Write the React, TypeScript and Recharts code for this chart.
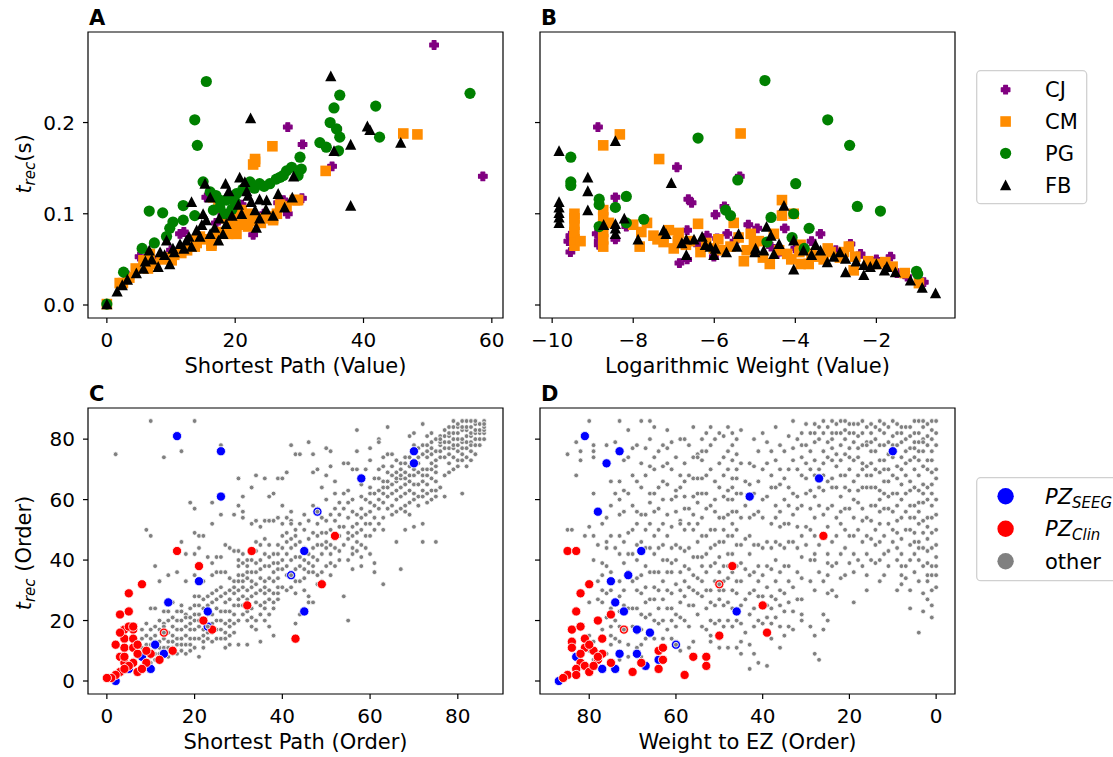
import React from "react";
import { ScatterChart, Scatter, XAxis, YAxis, ReferenceArea, Legend, Customized } from "recharts";

const FONT = '"DejaVu Sans", sans-serif';
type Pt = [number, number];
type Col = [number, number[]];

// ---- panel A : t_rec (s) vs shortest path (value)
const cjA: Pt[] = [[51.0,0.285],[58.6,0.141],[28.2,0.195],[30.5,0.176],[35.9,0.193],[35.1,0.152],[30.4,0.117],[26.7,0.112],[28.2,0.1],[22.8,0.077],[11.4,0.078],[5.1,0.053],[2.8,0.035],[15.5,0.118],[3.5,0.03],[8,0.05],[13,0.07],[17,0.09],[20,0.092],[24.5,0.1],[6.5,0.045],[10,0.06],[12,0.08],[18,0.1],[21,0.11],[27.5,0.115]];
const cmA: Pt[] = [[46.2,0.188],[48.4,0.187],[34.1,0.147],[25.8,0.174],[23.1,0.16],[22.8,0.154],[29.8,0.115],[25.9,0.095],[23.1,0.157],[20.5,0.093],[20.1,0.082],[16.3,0.067],[29.3,0.115],[25.7,0.097],[5.9,0.049],[6.4,0.04],[2.5,0.024],[0,0.001],[11.6,0.057],[13.7,0.064],[18.9,0.078],[22.0,0.086],[21.0,0.104],[17.4,0.107],[10.1,0.049],[16.6,0.118],[18.6,0.095],[20.2,0.078],[21.2,0.091],[22.8,0.096],[25.9,0.093],[6.7,0.056],[5.7,0.049],[11.9,0.062],[13.5,0.071],[16.3,0.065],[2.0,0.024],[29.6,0.115],[8.5,0.05],[14.5,0.075],[19.5,0.087],[24,0.09],[27,0.11],[3.5,0.03],[4.5,0.04],[7.5,0.045],[9,0.052],[10.5,0.055],[12.5,0.06],[14,0.068],[15,0.072],[17,0.075],[18,0.08],[19,0.083],[21.5,0.088],[23.5,0.092],[24.5,0.095],[26.5,0.1],[28,0.108],[19.5,0.1],[20.5,0.104],[22,0.1]];
const pgA: Pt[] = [[15.5,0.245],[13.7,0.203],[14.1,0.175],[56.6,0.232],[36.3,0.23],[35.4,0.216],[41.9,0.218],[34.8,0.2],[35.8,0.193],[36.3,0.184],[42.5,0.184],[33.2,0.178],[34.2,0.173],[36.1,0.169],[30.1,0.162],[28.8,0.151],[30.3,0.149],[29.8,0.142],[27.5,0.142],[26.4,0.138],[25.4,0.133],[23.8,0.133],[22.3,0.135],[21.2,0.127],[20.2,0.122],[18.6,0.115],[17.6,0.107],[16.6,0.104],[16.1,0.124],[15.0,0.135],[11.9,0.109],[13.7,0.098],[11.9,0.093],[10.3,0.091],[9.8,0.084],[6.6,0.103],[8.7,0.101],[9.3,0.075],[7.4,0.068],[5.5,0.062],[2.6,0.036],[0,0.001],[17.6,0.115],[18.4,0.1],[19,0.118],[20,0.113],[22,0.13],[23,0.128],[24.5,0.13],[27,0.14],[28,0.147],[17,0.12],[19.5,0.105]];
const fbA: Pt[] = [[34.9,0.251],[22.4,0.205],[40.6,0.196],[41.0,0.192],[45.8,0.178],[38.0,0.176],[35.4,0.169],[38.0,0.109],[29.1,0.141],[28.9,0.118],[26.7,0.122],[27.7,0.107],[25.9,0.098],[20.7,0.14],[21.5,0.135],[21.8,0.125],[18.5,0.133],[13.2,0.113],[15.3,0.133],[16.1,0.118],[20.5,0.11],[22.5,0.113],[23.8,0.116],[24.9,0.115],[24.8,0.105],[23.1,0.104],[23.8,0.095],[23.3,0.085],[18.6,0.089],[16.8,0.085],[15.0,0.1],[15.5,0.093],[16.1,0.078],[18.1,0.078],[17.4,0.071],[14.0,0.082],[14.5,0.075],[13.2,0.064],[11.4,0.067],[10.3,0.062],[9.3,0.071],[9.0,0.055],[9.8,0.045],[8.0,0.042],[6.6,0.06],[5.7,0.04],[4.6,0.035],[3.2,0.028],[2.4,0.022],[1.6,0.015],[0,0.001],[8.3,0.058],[12.4,0.071],[6,0.048],[7,0.05],[10.5,0.058],[12,0.062],[12.8,0.075],[14.8,0.088],[17.5,0.095],[19.5,0.098],[21,0.1],[22,0.12],[19,0.125]];

// ---- panel B : t_rec (s) vs logarithmic weight (value)
const cjB: Pt[] = [[-8.87,0.195],[-6.92,0.151],[-5.37,0.141],[-8.44,0.118],[-6.64,0.116],[-6.56,0.112],[-5.97,0.099],[-5.75,0.108],[-5.16,0.088],[-4.94,0.084],[-4.26,0.084],[-3.38,0.078],[-9.55,0.058],[-9.55,0.076],[-8.85,0.066],[-8.17,0.086],[-8.44,0.072],[-6.86,0.046],[-6.67,0.05],[-6.01,0.053],[-6.18,0.076],[-5.93,0.073],[-5.68,0.078],[-4.45,0.056],[-2.64,0.067],[-2.39,0.056],[-1.65,0.053],[-1.24,0.031],[-0.83,0.025],[-1.49,0.035],[-3.05,0.058],[-6.67,0.082],[-8.85,0.07],[-9.6,0.07],[-8.9,0.078],[-7.3,0.07],[-6.4,0.066],[-5.5,0.07],[-4.6,0.064],[-4.0,0.062],[-3.6,0.07],[-3.0,0.06],[-2.0,0.05]];
const cmB: Pt[] = [[-8.33,0.187],[-8.74,0.175],[-7.36,0.16],[-5.35,0.188],[-4.33,0.115],[-4.33,0.098],[-4.04,0.1],[-9.45,0.065],[-9.45,0.072],[-9.45,0.08],[-9.45,0.088],[-9.45,0.095],[-9.45,0.1],[-8.74,0.064],[-8.74,0.072],[-8.74,0.08],[-8.74,0.088],[-8.74,0.096],[-8.74,0.104],[-7.66,0.09],[-7.5,0.076],[-7.12,0.082],[-6.88,0.079],[-7.25,0.069],[-7.0,0.062],[-7.84,0.064],[-6.4,0.089],[-6.34,0.058],[-6.01,0.062],[-5.52,0.09],[-5.6,0.064],[-5.27,0.048],[-5.1,0.078],[-5.02,0.067],[-4.63,0.045],[-4.53,0.078],[-4.2,0.056],[-3.87,0.066],[-3.87,0.045],[-3.67,0.045],[-3.13,0.058],[-2.68,0.064],[-2.52,0.053],[-2.56,0.038],[-1.98,0.045],[-1.78,0.047],[-0.95,0.024],[-3.46,0.053],[-6.6,0.07],[-5.8,0.06],[-4.9,0.07],[-4.1,0.05],[-3.3,0.05],[-9.3,0.07],[-8.6,0.09],[-8.0,0.088],[-7.8,0.08],[-7.4,0.072],[-6.9,0.07],[-6.7,0.066],[-6.2,0.068],[-5.9,0.072],[-5.4,0.074],[-5.2,0.06],[-4.8,0.052],[-4.4,0.06],[-3.9,0.058],[-3.6,0.056],[-3.2,0.062],[-2.9,0.052],[-2.2,0.048],[-1.6,0.042],[-1.3,0.035],[-2.8,0.058]];
const pgB: Pt[] = [[-4.75,0.246],[-3.2,0.203],[-2.66,0.175],[-6.4,0.183],[-9.54,0.162],[-9.54,0.135],[-9.54,0.131],[-5.42,0.137],[-3.99,0.133],[-8.17,0.119],[-8.84,0.116],[-8.84,0.11],[-8.44,0.107],[-2.47,0.108],[-1.9,0.103],[-5.72,0.104],[-5.6,0.098],[-4.6,0.096],[-4.04,0.1],[-7.74,0.094],[-8.17,0.09],[-8.84,0.086],[-3.66,0.084],[-4.08,0.074],[-3.78,0.062],[-4.7,0.069],[-1.01,0.037],[-0.98,0.034]];
const fbB: Pt[] = [[-9.83,0.169],[-8.44,0.18],[-9.12,0.14],[-9.12,0.125],[-9.12,0.104],[-7.06,0.134],[-9.83,0.113],[-9.83,0.107],[-9.83,0.101],[-9.83,0.096],[-9.83,0.09],[-8.44,0.089],[-8.44,0.084],[-8.44,0.078],[-8.73,0.088],[-8.22,0.095],[-7.88,0.072],[-7.25,0.082],[-7.19,0.078],[-6.69,0.072],[-6.69,0.055],[-6.5,0.072],[-6.3,0.075],[-6.22,0.066],[-6.1,0.064],[-6.01,0.055],[-5.97,0.062],[-5.4,0.078],[-5.44,0.064],[-4.98,0.062],[-4.78,0.06],[-4.71,0.086],[-4.6,0.076],[-4.53,0.056],[-4.4,0.067],[-4.28,0.109],[-4.04,0.071],[-4.04,0.039],[-3.5,0.066],[-3.38,0.06],[-3.21,0.047],[-3.05,0.053],[-2.76,0.051],[-2.76,0.036],[-2.31,0.044],[-2.31,0.033],[-2.15,0.042],[-1.74,0.042],[-1.53,0.036],[-1.16,0.027],[-0.87,0.019],[-0.54,0.013],[-3.8,0.06],[-3.6,0.055],[-2.9,0.058],[-2.5,0.048],[-2.0,0.045],[-1.8,0.038],[-6.8,0.068],[-5.7,0.058],[-5.0,0.058]];

// ---- panel C : t_rec (order) vs shortest path (order), grey points as [x, ys]
const otherC: Col[] = [[2,[75]],[3,[2]],[4,[3]],[5,[4,11]],[6,[12,7]],[7,[13,9,3]],[8,[14,11,5,8,17]],[9,[50,19,9,7,12,15]],[10,[86,48,24,17,6,8,10,12,14]],[11,[38,24,15,11,7,9,13,18]],[12,[33,17,9,7,11,13,20]],[13,[74,23,19,14,9,11,16,18]],[14,[35,20,11,8,13,16,23]],[15,[26,18,13,9,11,15,21]],[16,[43,36,23,17,9,12,14,20]],[17,[76,46,25,20,10,12,14,17,23]],[18,[42,33,22,21,9,12,15,18]],[19,[59,24,19,14,10,12,17,21]],[20,[86,57,49,42,35,25,20,11,14,17,22,28]],[21,[48,44,25,18,8,14,20,22,28]],[22,[48,33,27,17,11,13,15,20,24]],[23,[41,28,14,16,19,22,25]],[24,[59,52,39,35,29,13,16,19,22,26]],[25,[41,36,27,14,17,20,24,30]],[26,[78,55,41,36,28,17,14,20,23,31]],[27,[45,36,29,19,11,14,16,23,26]],[28,[44,34,30,20,12,15,18,23,27]],[29,[55,43,33,29,22,16,19,25,31]],[30,[67,58,40,35,30,20,12,25,27,33,38,43]],[31,[61,56,54,39,35,28,22,25,31,33,42]],[32,[38,34,25,20,12,23,27,30,36,40]],[33,[64,52,33,28,18,21,24,31,36,40]],[34,[68,53,46,36,29,17,20,26,32,39,43]],[35,[51,45,34,30,13,22,25,37,40]],[36,[67,53,47,33,29,20,24,26,31,38,42]],[37,[61,53,45,34,27,18,22,30,38,41]],[38,[62,53,42,33,26,15,24,29,36,39]],[39,[67,54,42,39,34,27,29,31,37,45]],[40,[67,40,37,31,44,48,52,58]],[41,[69,54,42,30,35,38,46,49]],[42,[78,56,53,52,31,35,40,44,47]],[43,[75,33,29,19,37,41,45,48,50]],[44,[75,33,22,38,41,46,52]],[45,[34,30,37,40,44,50,55]],[46,[79,36,28,26,39,42,47,53]],[47,[75,69,38,36,26,41,44,49,58]],[48,[70,40,32,35,45,48,52,57]],[49,[64,42,36,33,45,49,54]],[50,[77,68,46,44,38,49,53,60]],[51,[76,71,45,39,35,42,50,55]],[52,[66,47,44,38,53,57,62]],[53,[51,48,40,43,55,59]],[54,[72,51,28,45,57,62]],[55,[72,54,49,47,20,40,59,63]],[56,[70,56,51,44,37,42,48,60]],[57,[83,76,70,52,46,43,49,55]],[58,[65,61,54,41,38,45,50,57]],[59,[70,55,44,48,52,60]],[60,[77,73,62,56,42,48,52,59,64]],[61,[67,58,39,36,50,54,62]],[62,[80,79,67,57,52,60,63,70]],[63,[74,71,64,59,32,50,54,62,66]],[64,[84,75,69,61,57,64,66]],[65,[75,71,65,58,55,62,68]],[66,[73,69,60,46,56,63,66,67]],[67,[70,64,61,37,57,67,68,72]],[68,[72,67,62,50,56,58,65,69,74]],[69,[81,71,63,55,59,66,68,74]],[70,[82,73,70,68,51,60,62,65,76,78]],[71,[74,65,58,61,69,72,77]],[72,[85,75,70,63,52,46,61,66,68,78]],[73,[81,74,65,59,62,68,70,76,78]],[74,[82,75,72,67,60,63,70,77,79]],[75,[80,76,71,69,46,61,63,66,73]],[76,[81,78,74,64,76,79,80]],[77,[83,77,68,61,79,81,74]],[78,[84,79,75,69,77,81,82,72]],[79,[84,80,74,77,78,82,86,70]],[80,[78,73,76,80,82,84,85,71]],[81,[86,79,75,62,77,80,83,84,73]],[82,[86,77,71,74,79,81,83,84]],[83,[79,73,76,78,81,82,84,86]],[84,[85,82,75,78,80,83,86]],[85,[85,78,80,82,83]],[86,[86,82,80,83,84,85]]];
const seegC: Pt[] = [[16,81],[26,76],[26,61],[58,67],[70,76],[70,72],[21,33],[14,26],[45,43],[45,23],[23,23],[8,8],[10,4],[2,0],[11,12],[13,9],[5,4],[48,56],[42,35],[23,18]];
const clinC: Pt[] = [[16,43],[33,43],[21,38],[8,32],[5,29],[3,22],[5,23],[32,25],[22,20],[24,17],[49,32],[43,14],[52,48],[15,10],[12,7],[10,9],[9,10],[4,17],[6,17],[4,14],[6,14],[4,11],[6,11],[3,8],[4,6],[6,6],[7,3],[5,5],[3,3],[2,2],[1,1],[0,1],[4,4],[7,9],[7,12],[9,6],[5,18],[13,16],[3,16],[2,12],[6,18],[4,8],[8,4]];
const topC: Pt[] = [[48,56],[42,35],[13,16],[23,18]];

// ---- panel D : t_rec (order) vs weight to EZ (order)
const otherD: Col[] = [[85,[75,50]],[84,[50]],[83,[79,68]],[82,[76,73]],[81,[48,13]],[80,[86,51,26,15,10]],[79,[78,76,74,48,13,7,62,40]],[78,[33,45,27]],[77,[39,30,26,17,52,35]],[76,[78,54,46,44,29,9,38,21]],[75,[66,58,30,24,15,12,48,36,18]],[74,[79,62,44,20,14]],[73,[86,55,48,42,33,23,13,7,66,60,28,18]],[72,[63,39,73,56,46,30,25]],[71,[83,74,62,49,42,36,24,12,8]],[70,[77,50,24,68,58,42,33,18]],[69,[78,66,45,34,24,56,52,40,30,16,11]],[68,[86,55,35,22,12,8,72,64,46,29,17]],[67,[77,55,38,26,14,68,50,44,31,21]],[66,[86,71,62,59,36,27,15,80,52,44,22]],[65,[74,70,62,56,36,27,14,84,48,42,31,20]],[64,[64,50,36,24,19,76,57,44,30]],[63,[78,71,60,40,14,66,52,45,33,27,20]],[62,[83,77,65,48,40,24,72,55,36,30,17]],[61,[79,51,36,29,20,70,60,44,39,24,14]],[60,[63,61,32,13,74,56,45,40,22,18]],[59,[80,53,52,36,30,10,68,64,44,26,21]],[58,[72,61,57,43,28,80,66,50,38,33,20]],[57,[57,44,25,11,78,68,52,37,31,18]],[56,[84,74,61,50,41,25,13,67,55,35,30]],[55,[75,74,67,59,41,29,62,52,46,34,22]],[54,[76,73,67,48,41,28,18,80,62,54,38,33]],[53,[82,57,36,30,17,76,68,62,48,42,24]],[52,[84,58,38,26,15,13,78,70,50,44,30,20]],[51,[60,56,39,25,19,80,66,50,45,33]],[50,[72,54,36,27,14,11,82,64,46,41,30,20]],[49,[81,61,54,46,38,25,18,74,68,50,33,30]],[48,[70,63,55,34,26,11,84,76,60,48,42,38,20]],[47,[82,73,67,64,56,48,36,24,78,60,52,42,30,18]],[46,[75,67,56,50,38,29,11,80,70,62,45,33,20]],[45,[83,72,54,39,25,13,9,62,45,33,19]],[44,[66,58,47,37,27,16]],[43,[54,42,29,4,72,65,48,35,22,12]],[42,[71,55,36,18,9,80,62,45,30,24]],[41,[45,28,20,6,76,66,56,38,33]],[40,[70,54,35,82,60,44,28,19]],[39,[79,46,25,5,72,61,38,31,21]],[38,[64,52,37,19,14,76,68,44,28,24]],[37,[54,46,27,84,73,64,58,40,33,21]],[36,[78,65,51,36,25,18,11,70,56,45,30]],[35,[67,44,15,76,60,52,38,29,23]],[34,[52,46,38,26,18,81,70,64,58,33]],[33,[77,23,17,86,73,62,55,46,31]],[32,[51,44,36,80,70,61,57,27]],[31,[78,68,41,34,20,82,74,58,48,27,22]],[30,[85,67,51,78,72,62,45]],[29,[82,63,57,33,18,76,70,50,40]],[28,[85,82,73,61,54,42,40,30,15,9,79,68,48]],[27,[84,7,80,70,64,58,45,36]],[26,[82,76,63,55,22,17,86,72,68,48,33]],[25,[79,57,42,39,29,20,84,74,66,51,35]],[24,[82,80,77,67,64,30,86,73,58,46,38]],[23,[82,75,54,39,85,71,64,48,28]],[22,[82,78,61,52,42,86,73,68,56,34]],[21,[83,80,75,57,50,35,86,68,64,44]],[20,[85,70,39,82,77,74,63,57,48]],[19,[85,79,60,54,42,26,82,73,66,48,36]],[18,[85,81,63,77,74,68,59,50,40]],[17,[82,72,70,57,46,86,78,64,53,38]],[16,[79,78,64,54,42,35,84,71,68,48,30]],[15,[85,79,72,64,53,82,76,68,58,47,40]],[14,[84,70,64,39,80,76,58,50,45]],[13,[83,78,73,63,56,40,86,69,60,52,46,33]],[12,[82,78,73,66,57,35,85,70,62,48,42]],[11,[79,61,52,43,84,75,70,66,57,38]],[10,[81,74,86,78,68,62,56,50,46]],[9,[85,82,62,49,40,78,71,67,58,53,44,30]],[8,[79,74,65,54,42,35,32,84,82,70,60,47,38]],[7,[76,72,84,80,68,62,56,50,38,34]],[6,[73,66,54,45,24,84,81,77,63,58,50,40,30]],[5,[86,79,77,58,42,82,74,70,64,54,49,46,36]],[4,[86,82,73,59,52,40,33,16,79,76,68,63,56,46,44]],[3,[84,76,71,59,49,29,23,86,80,79,65,62,53,44,38]],[2,[85,81,54,51,39,35,33,27,78,73,70,64,60,47,43]],[1,[86,80,76,69,58,49,30,25,21,83,73,65,62,54,44,38,35]],[0,[41,38,31,86,82,78,70,67,60,55,50,45,35]]];
const seegD: Pt[] = [[81,81],[73,76],[76,72],[78,56],[68,43],[71,35],[75,33],[74,26],[72,23],[69,17],[66,16],[69,9],[73,9],[83,8],[77,4],[74,4],[67,5],[64,7],[87,0],[27,67],[43,61],[10,76],[46,23],[60,12]];
const clinD: Pt[] = [[85,43],[83,43],[80,32],[82,29],[83,23],[84,17],[82,18],[78,20],[75,22],[84,13],[84,11],[81,11],[79,10],[77,9],[82,6],[78,7],[75,6],[70,3],[68,6],[64,10],[63,11],[63,7],[64,4],[58,2],[56,8],[53,8],[53,5],[50,15],[47,38],[40,25],[39,16],[26,48],[50,32],[72,17],[85,2],[86,1],[83,4],[81,5],[83,2],[80,3],[81,14],[77,14],[78,8],[80,12],[82,9],[79,5]];
const topD: Pt[] = [[60,12],[50,32],[72,17]];

const pts = (arr: Pt[]) => arr.map(([x, y]) => ({ x, y }));
const cols = (arr: Col[]) => arr.flatMap(([x, ys]) => ys.map((y) => ({ x, y })));

const PURPLE = "#800080";
const ORANGE = "#ff8c00";
const GREEN = "#008000";
const BLUE = "#0000ff";
const RED = "#ff0000";
const GREY = "#808080";

const plus = (p: any) => {
  const { cx, cy } = p;
  const a = 4.3, b = 1.9;
  const d = `M${cx - b},${cy - a}H${cx + b}V${cy - b}H${cx + a}V${cy + b}H${cx + b}V${cy + a}H${cx - b}V${cy + b}H${cx - a}V${cy - b}H${cx - b}Z`;
  return <path d={d} fill={PURPLE} stroke={PURPLE} strokeWidth={1.2} strokeLinejoin="round" />;
};
const square = (p: any) => <rect x={p.cx - 5.3} y={p.cy - 5.3} width={10.6} height={10.6} fill={ORANGE} />;
const disc = (p: any) => <circle cx={p.cx} cy={p.cy} r={5.6} fill={GREEN} />;
const tri = (p: any) => (
  <polygon points={`${p.cx},${p.cy - 5.6} ${p.cx + 5.6},${p.cy + 5.2} ${p.cx - 5.6},${p.cy + 5.2}`} fill="#000" />
);
const dot = (fill: string, r: number) => (p: any) => (
  <circle cx={p.cx} cy={p.cy} r={r} fill={fill} stroke="#fff" strokeWidth={0.8} />
);

type Series = { name: string; data: { x: number; y: number }[]; shape: (p: any) => React.ReactElement };

type PanelProps = {
  left: number;
  top: number;
  width: number;
  letter: string;
  xDomain: [number, number];
  xTicks: number[];
  xReversed?: boolean;
  xFmt?: (v: number) => string;
  xLabel: string;
  yDomain: [number, number];
  yTicks: number[];
  yFmt: (v: number) => string;
  yLabel?: React.ReactNode;
  series: Series[];
  legend?: React.ReactElement;
  legendPos?: { left: number; top: number; width: number; height: number };
};

function Panel(props: PanelProps) {
  const { xDomain, yDomain } = props;
  const tick = { fill: "#000", fontSize: 20, fontFamily: FONT };
  const tickLine = { stroke: "#000", strokeWidth: 1.2 };
  return (
    <div style={{ position: "absolute", left: props.left, top: props.top }}>
      <ScatterChart width={props.width} height={380} margin={{ top: 32, right: props.width - 88 - 415, bottom: 2, left: 0 }}>
        <XAxis
          type="number"
          dataKey="x"
          domain={xDomain}
          ticks={props.xTicks}
          reversed={props.xReversed}
          allowDataOverflow
          interval={0}
          axisLine={false}
          tickSize={5}
          tickMargin={10}
          height={60}
          tick={tick}
          tickLine={tickLine}
          tickFormatter={props.xFmt}
          label={{ value: props.xLabel, position: "insideBottom", offset: 5, fill: "#000", fontSize: 21, fontFamily: FONT }}
        />
        <YAxis
          type="number"
          dataKey="y"
          domain={yDomain}
          ticks={props.yTicks}
          allowDataOverflow
          interval={0}
          axisLine={false}
          tickSize={5}
          tickMargin={8}
          width={88}
          tick={tick}
          tickLine={tickLine}
          tickFormatter={props.yFmt}
        />
        {props.series.map((s) => (
          <Scatter key={s.name} name={s.name} data={s.data} shape={s.shape} isAnimationActive={false} />
        ))}
        <ReferenceArea
          x1={xDomain[0]}
          x2={xDomain[1]}
          y1={yDomain[0]}
          y2={yDomain[1]}
          fill="none"
          fillOpacity={0}
          stroke="#000"
          strokeWidth={1.2}
          ifOverflow="visible"
        />
        <Customized
          component={() => (
            <g>
              <text x={89} y={25} fontSize={21} fontWeight="bold" fontFamily={FONT} fill="#000">
                {props.letter}
              </text>
              {props.yLabel}
            </g>
          )}
        />
        {props.legend && props.legendPos && (
          <Legend
            layout="vertical"
            align="center"
            verticalAlign="middle"
            content={() => props.legend}
            wrapperStyle={{ position: "absolute", ...props.legendPos }}
          />
        )}
      </ScatterChart>
    </div>
  );
}

const minus = (v: number) => (v < 0 ? "\u2212" + Math.abs(v) : String(v));
const blank = () => "";

const legendRowsA = [
  { label: "CJ", shape: plus },
  { label: "CM", shape: square },
  { label: "PG", shape: disc },
  { label: "FB", shape: tri },
];

function LegendA() {
  return (
    <svg width={112} height={135} style={{ display: "block" }}>
      <rect x={0.7} y={0.7} width={110} height={133} rx={4} fill="#fff" stroke="#d0d0d0" strokeWidth={1.3} />
      {legendRowsA.map((r, i) => (
        <g key={r.label}>
          {r.shape({ cx: 29.6, cy: 19.7 + i * 31.8 })}
          <text x={69} y={19.7 + i * 31.8 + 7.5} fontSize={21} fontFamily={FONT} fill="#000">
            {r.label}
          </text>
        </g>
      ))}
    </svg>
  );
}

function LegendD() {
  const rowY = [19.3, 51.8, 84.3];
  return (
    <svg width={160} height={105} style={{ display: "block" }}>
      <rect x={0.7} y={0.7} width={170} height={103} rx={4} fill="#fff" stroke="#d0d0d0" strokeWidth={1.3} />
      <circle cx={29.6} cy={rowY[0]} r={8.2} fill={BLUE} />
      <circle cx={29.6} cy={rowY[1]} r={8.2} fill={RED} />
      <circle cx={29.6} cy={rowY[2]} r={8.2} fill={GREY} />
      <text x={69} y={rowY[0] + 7.5} fontSize={21} fontFamily={FONT} fill="#000">
        <tspan fontStyle="italic">PZ</tspan>
        <tspan fontStyle="italic" fontSize={15} dy={4}>SEEG</tspan>
      </text>
      <text x={69} y={rowY[1] + 7.5} fontSize={21} fontFamily={FONT} fill="#000">
        <tspan fontStyle="italic">PZ</tspan>
        <tspan fontStyle="italic" fontSize={15} dy={4}>Clin</tspan>
      </text>
      <text x={69} y={rowY[2] + 7.5} fontSize={21} fontFamily={FONT} fill="#000">
        other
      </text>
    </svg>
  );
}

const yLabelA = (
  <text x={31} y={164} transform="rotate(-90 31 164)" textAnchor="middle" fontSize={21} fontFamily={FONT} fill="#000">
    <tspan fontStyle="italic">t</tspan>
    <tspan fontStyle="italic" fontSize={15} dy={4}>rec</tspan>
    <tspan dy={-4}>(s)</tspan>
  </text>
);
const yLabelC = (
  <text x={31} y={177} transform="rotate(-90 31 177)" textAnchor="middle" fontSize={21} fontFamily={FONT} fill="#000" style={{ whiteSpace: "pre" }}>
    <tspan fontStyle="italic">t</tspan>
    <tspan fontStyle="italic" fontSize={15} dy={4}>rec</tspan>
    <tspan dy={-4}>{" (Order)"}</tspan>
  </text>
);

const seriesA: Series[] = [
  { name: "CJ", data: pts(cjA), shape: plus },
  { name: "CM", data: pts(cmA), shape: square },
  { name: "PG", data: pts(pgA), shape: disc },
  { name: "FB", data: pts(fbA), shape: tri },
];
const seriesB: Series[] = [
  { name: "CJ", data: pts(cjB), shape: plus },
  { name: "CM", data: pts(cmB), shape: square },
  { name: "PG", data: pts(pgB), shape: disc },
  { name: "FB", data: pts(fbB), shape: tri },
];
const seriesC: Series[] = [
  { name: "other", data: cols(otherC), shape: dot(GREY, 2.4) },
  { name: "seeg", data: pts(seegC), shape: dot(BLUE, 4.6) },
  { name: "clin", data: pts(clinC), shape: dot(RED, 4.6) },
  { name: "otherTop", data: pts(topC), shape: dot(GREY, 2.4) },
];
const seriesD: Series[] = [
  { name: "other", data: cols(otherD), shape: dot(GREY, 2.4) },
  { name: "seeg", data: pts(seegD), shape: dot(BLUE, 4.6) },
  { name: "clin", data: pts(clinD), shape: dot(RED, 4.6) },
  { name: "otherTop", data: pts(topD), shape: dot(GREY, 2.4) },
];

export default function App() {
  const valueY: [number, number] = [-0.01425, 0.29925];
  const orderY: [number, number] = [-4.3, 90.3];
  return (
    <div style={{ position: "absolute", left: 0, top: 0, width: 1113, height: 757, overflow: "hidden", background: "#fff", fontFamily: FONT }}>
      <Panel
        left={0}
        top={0}
        width={510}
        letter="A"
        xDomain={[-2.94, 61.74]}
        xTicks={[0, 20, 40, 60]}
        xLabel="Shortest Path (Value)"
        yDomain={valueY}
        yTicks={[0, 0.1, 0.2]}
        yFmt={(v) => v.toFixed(1)}
        yLabel={yLabelA}
        series={seriesA}
      />
      <Panel
        left={452}
        top={0}
        width={661}
        letter="B"
        xDomain={[-10.3, -0.06]}
        xTicks={[-10, -8, -6, -4, -2]}
        xFmt={minus}
        xLabel="Logarithmic Weight (Value)"
        yDomain={valueY}
        yTicks={[0, 0.1, 0.2]}
        yFmt={blank}
        series={seriesB}
        legend={<LegendA />}
        legendPos={{ left: 523.7, top: 70, width: 112, height: 135 }}
      />
      <Panel
        left={0}
        top={376}
        width={510}
        letter="C"
        xDomain={[-4.3, 90.3]}
        xTicks={[0, 20, 40, 60, 80]}
        xLabel="Shortest Path (Order)"
        yDomain={orderY}
        yTicks={[0, 20, 40, 60, 80]}
        yFmt={(v) => String(v)}
        yLabel={yLabelC}
        series={seriesC}
      />
      <Panel
        left={452}
        top={376}
        width={661}
        letter="D"
        xDomain={[-4.35, 91.35]}
        xTicks={[0, 20, 40, 60, 80]}
        xReversed
        xLabel="Weight to EZ (Order)"
        yDomain={orderY}
        yTicks={[0, 20, 40, 60, 80]}
        yFmt={blank}
        series={seriesD}
        legend={<LegendD />}
        legendPos={{ left: 523.7, top: 100.7, width: 160, height: 105 }}
      />
    </div>
  );
}
